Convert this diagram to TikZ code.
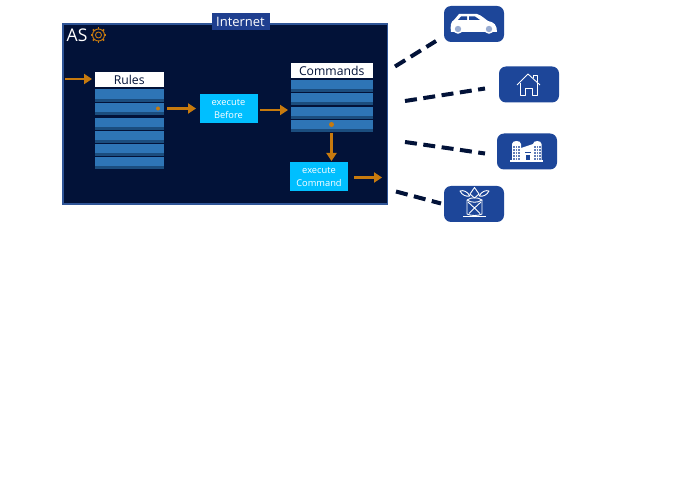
\documentclass[tikz,border=0pt]{standalone}
\usepackage{fontspec}
\setmainfont{Open Sans}
\usetikzlibrary{arrows.meta,calc}
\definecolor{navy}{HTML}{021238}
\definecolor{edgeblue}{HTML}{2F5597}
\definecolor{tabblue}{HTML}{1F3F8F}
\definecolor{iconblue}{HTML}{1D4699}
\definecolor{rowblue}{HTML}{2E75B6}
\definecolor{rowdark}{HTML}{1B4D7E}
\definecolor{cyanbox}{HTML}{00BFFF}
\definecolor{orangec}{HTML}{C77A0E}
\tikzset{
  x=1pt,y=-1pt,
  panel/.style={draw=edgeblue,line width=1.6pt,fill=navy},
  tabbox/.style={fill=tabblue,text=white,inner sep=0pt,minimum width=58pt,minimum height=17pt,font=\fontsize{13}{14}\selectfont},
  headbox/.style={fill=white,text=navy,inner sep=0pt,minimum height=15pt,font=\fontsize{12.2}{13}\selectfont},
  execbox/.style={fill=cyanbox,text=white,inner sep=0pt,align=center,minimum width=58pt,minimum height=29pt,font=\fontsize{9.3}{13}\selectfont},
  iconbox/.style={fill=iconblue,rounded corners=7pt,minimum width=60pt,minimum height=36pt,inner sep=0pt},
  flow/.style={draw=orangec,line width=2.8pt,-{Triangle[length=8pt,width=10pt]}},
  link/.style={draw=navy,line width=4pt,dash pattern=on 12pt off 6.5pt},
  pin/.style={circle,fill=orangec,inner sep=0pt,minimum size=5pt},
  ico/.style={draw=white,line width=0.9pt,line join=round},
}
\newcommand{\rowat}[3]{% x, y, width
  \fill[rowdark] (#1,#2+9.5) rectangle ++(#3,3);
  \fill[rowblue] (#1,#2) rectangle ++(#3,9.5);
}
\begin{document}
\begin{tikzpicture}
\useasboundingbox (0,0) rectangle (695,494);
\fill[white] (0,0) rectangle (695,494);
% panel
\node[panel,minimum width=324.5pt,minimum height=179.5pt,inner sep=0pt,anchor=north west] (as) at (62,23.5) {};
\node[tabbox] (internet) at (240.5,22) {Internet};
\node[text=white,inner sep=0pt,font=\fontsize{17.5}{18}\selectfont,anchor=west] (aslabel) at (66.5,35) {AS};
% gear
\foreach \a in {0,45,...,315}{
  \draw[orangec,line width=1.6pt] (98.5,35)++(\a:5.6) -- ++(\a:2.2);
}
\draw[orangec,line width=0.9pt,fill=navy] (98.5,35) circle (6pt);
\draw[orangec,line width=0.9pt] (98.5,35) circle (3pt);
% rules
\node[headbox,minimum width=69pt,anchor=north west] (rules) at (94.5,72) {Rules};
\foreach \y in {89.5,103,118,131,144,157}{\rowat{94.5}{\y}{69}}
\node[pin,minimum size=4pt] (rpin) at (158,108.5) {};
% commands
\node[headbox,minimum width=82pt,anchor=north west] (commands) at (290.5,63) {Commands};
\foreach \y in {80,93,107,120}{\rowat{290.5}{\y}{82}}
\node[pin] (cpin) at (331.5,124.5) {};
% exec
\node[execbox] (before) at (228.5,108.5) {execute\\Before};
\node[execbox] (command) at (319,177) {execute\\Command};
% flows
\coordinate (in0) at (65,79);
\coordinate (rs) at (167,108.5);
\coordinate (bo) at (260,110);
\coordinate (bi) at (288,110);
\coordinate (ct) at (331.5,133);
\coordinate (cb) at (331.5,161);
\coordinate (co) at (354,177.5);
\coordinate (oo) at (382,177.5);
\coordinate (ri) at (92,79);
\coordinate (bl) at (196,108.5);
\draw[flow] (in0) -- (ri);
\draw[flow] (rs) -- (bl);
\draw[flow] (bo) -- (bi);
\draw[flow] (ct) -- (cb);
\draw[flow] (co) -- (oo);
% icon boxes
\node[iconbox] (car) at (474,24) {};
\node[iconbox] (house) at (529,84.5) {};
\node[iconbox] (city) at (527,151.5) {};
\node[iconbox] (plant) at (474,204) {};
% links
\coordinate (l1a) at (395,66.5);
\coordinate (l1b) at (436,41);
\coordinate (l2a) at (405,101);
\coordinate (l2b) at (485,88.5);
\coordinate (l3a) at (405,142);
\coordinate (l3b) at (485,153.5);
\coordinate (l4a) at (396,191.5);
\coordinate (l4b) at (441,203.5);
\draw[link] (l1a) -- (l1b);
\draw[link] (l2a) -- (l2b);
\draw[link] (l3a) -- (l3b);
\draw[link] (l4a) -- (l4b);
% car
\fill[white] (451,32) .. controls (450,26) and (451,21) .. (454,20) -- (459,14) -- (477,14)
  .. controls (481,15) and (485,19) .. (488,21) .. controls (494,22) and (497,25) .. (497,32) -- cycle;
\fill[iconblue] (458,20) -- (461,16.5) -- (467,16.5) -- (467,20) -- cycle;
\fill[iconblue] (469,16.5) -- (475,16.5) -- (480,20) -- (469,20) -- cycle;
\foreach \x in {458,489}{
  \fill[white] (\x,29) circle (4.8pt);
  \fill[iconblue!45!white] (\x,29) circle (3.2pt);
}
% house
\draw[ico] (517,85) -- (528,74) -- (540,85);
\draw[ico] (520,83) -- (520,95) -- (525,95) -- (525,88) -- (532,88) -- (532,95) -- (537,95) -- (537,83);
\draw[ico] (533,78) -- (533,75) -- (537,75) -- (537,82);
% city
\fill[white] (510,160.5) rectangle (543,162);
\foreach \x/\w in {512/9,533/8.5}{
  \fill[white] (\x,144) .. controls (\x,140) and (\x+\w,140) .. (\x+\w,144) -- (\x+\w,160.5) -- (\x,160.5) -- cycle;
}
\fill[white] (521,148) -- (533,144) -- (533,160.5) -- (521,160.5) -- cycle;
\fill[iconblue] (525,152) rectangle (531,153.5);
\fill[iconblue] (526,155) rectangle (530,160.5);
\foreach \x in {514,516.7,519,535,537.7,540}{\foreach \y in {146,149,152,155,158}{\fill[iconblue!70!white] (\x-0.6,\y) rectangle ++(1.2,1.6);}}
% plant
\draw[ico] (467,200) -- (467,214) .. controls (471,216) and (478,216) .. (482,214) -- (482,200);
\draw[ico] (467,200) .. controls (471,197) and (478,197) .. (482,200) .. controls (478,203) and (471,203) .. (467,200);
\draw[ico] (468,202) -- (474.5,208) -- (481,202);
\draw[ico] (474.5,208) -- (469,213.5);
\draw[ico] (474.5,208) -- (480,213.5);
\draw[ico] (463,216.5) -- (486,216.5);
\draw[ico] (474.5,187.5) -- (470,194) -- (474.5,198) -- (479,194) -- cycle;
\draw[ico] (470,196) .. controls (467,191) and (463,190) .. (460,191) .. controls (462,195) and (466,197) .. (470,196);
\draw[ico] (479,196) .. controls (482,191) and (486,190) .. (489,191) .. controls (487,195) and (483,197) .. (479,196);
\end{tikzpicture}
\end{document}
